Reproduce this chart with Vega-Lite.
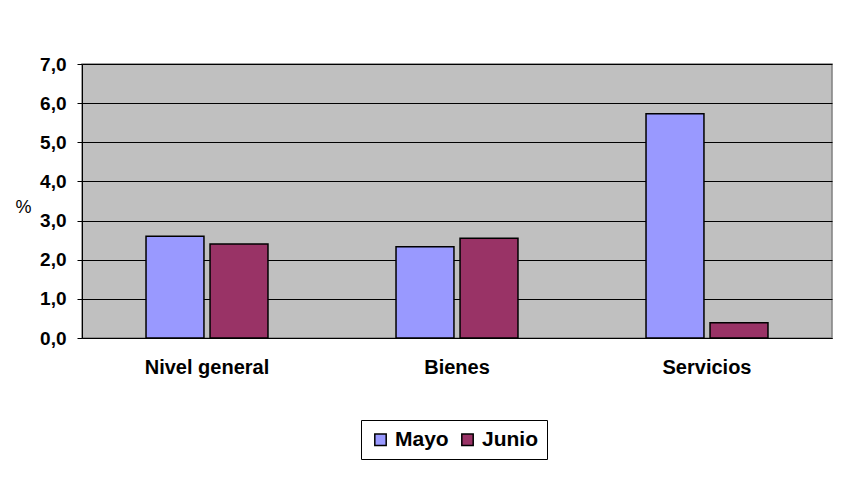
{
  "$schema": "https://vega.github.io/schema/vega-lite/v6.json",
  "width": 750,
  "height": 274,
  "autosize": {"type": "none"},
  "padding": {"left": 82, "top": 64, "right": 18, "bottom": 163},
  "background": "white",
  "data": {
    "values": [
      {"categoria": "Nivel general", "mes": "Mayo", "valor": 2.6},
      {"categoria": "Nivel general", "mes": "Junio", "valor": 2.4},
      {"categoria": "Bienes", "mes": "Mayo", "valor": 2.33},
      {"categoria": "Bienes", "mes": "Junio", "valor": 2.55},
      {"categoria": "Servicios", "mes": "Mayo", "valor": 5.73},
      {"categoria": "Servicios", "mes": "Junio", "valor": 0.39}
    ]
  },
  "mark": {"type": "bar", "stroke": "black", "strokeWidth": 1.5},
  "encoding": {
    "x": {
      "field": "categoria",
      "type": "nominal",
      "sort": ["Nivel general", "Bienes", "Servicios"],
      "scale": {"paddingInner": 0, "paddingOuter": 0},
      "axis": {
        "title": null,
        "labelAngle": 0,
        "labelFont": "Liberation Sans",
        "labelFontWeight": "bold",
        "labelFontSize": 20,
        "labelColor": "black",
        "labelPadding": 19,
        "ticks": false,
        "domainColor": "black",
        "domainWidth": 1
      }
    },
    "xOffset": {
      "field": "mes",
      "type": "nominal",
      "sort": ["Mayo", "Junio"],
      "scale": {"paddingInner": 0.095, "paddingOuter": 1.03}
    },
    "y": {
      "field": "valor",
      "type": "quantitative",
      "scale": {"domain": [0, 7], "nice": false},
      "axis": {
        "values": [0, 1, 2, 3, 4, 5, 6, 7],
        "labelExpr": "replace(format(datum.value, '.1f'), '.', ',')",
        "title": "%",
        "titleAngle": 0,
        "titleX": -59,
        "titleY": 143,
        "titleAlign": "center",
        "titleBaseline": "middle",
        "titleFont": "Liberation Sans",
        "titleFontSize": 18,
        "titleFontWeight": "normal",
        "titleColor": "black",
        "labelFont": "Liberation Sans",
        "labelFontWeight": "bold",
        "labelFontSize": 19,
        "labelColor": "black",
        "labelPadding": 11,
        "tickSize": 5,
        "tickColor": "black",
        "domainColor": "black",
        "grid": true,
        "gridColor": "black",
        "gridWidth": 1
      }
    },
    "color": {
      "field": "mes",
      "type": "nominal",
      "sort": ["Mayo", "Junio"],
      "scale": {"domain": ["Mayo", "Junio"], "range": ["#9999FF", "#993366"]},
      "legend": {
        "title": null,
        "orient": "none",
        "direction": "horizontal",
        "legendX": 279,
        "legendY": 356,
        "padding": 9,
        "strokeColor": "black",
        "fillColor": "white",
        "symbolType": "square",
        "symbolSize": 130,
        "symbolStrokeColor": "black",
        "symbolStrokeWidth": 1.5,
        "labelFont": "Liberation Sans",
        "labelFontWeight": "bold",
        "labelFontSize": 21,
        "labelColor": "black",
        "columnPadding": 8,
        "symbolOpacity": 1
      }
    }
  },
  "config": {
    "view": {"fill": "#C0C0C0", "stroke": "#808080", "strokeWidth": 1.5}
  }
}
